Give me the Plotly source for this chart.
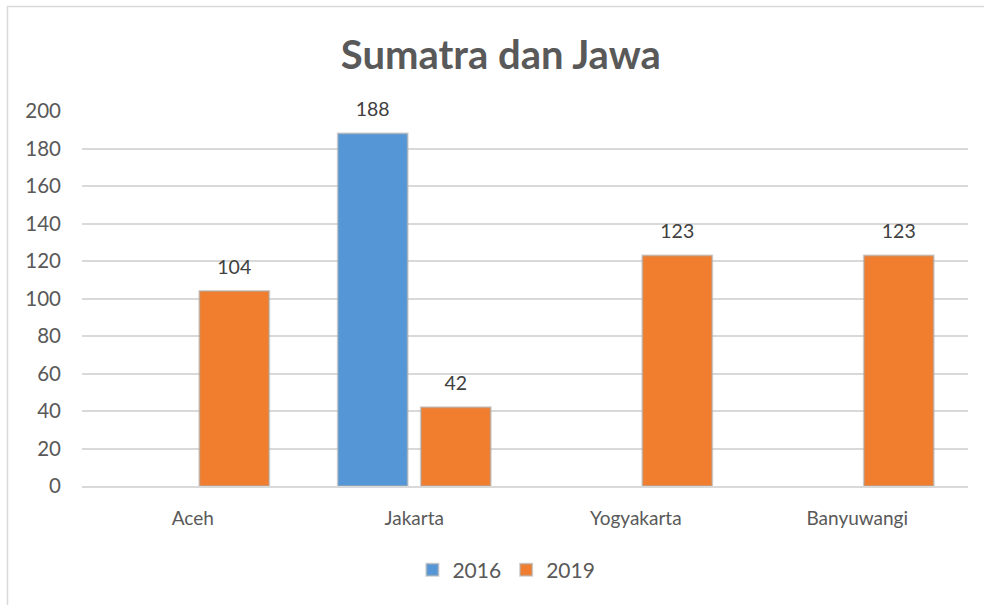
import plotly.graph_objects as go

categories = ["Aceh", "Jakarta", "Yogyakarta", "Banyuwangi"]
values_2016 = [None, 188, None, None]
values_2019 = [104, 42, 123, 123]
series_names = ["2016", "2019"]
y_ticks = [0, 20, 40, 60, 80, 100, 120, 140, 160, 180, 200]

FONT = "Lato, Carlito, Calibri, sans-serif"
COLORS = ["#5597D6", "#F07E2E"]

def labels(vals):
    return ["" if v is None else str(v) for v in vals]

fig = go.Figure()
for name, vals, col in zip(series_names, [values_2016, values_2019], COLORS):
    fig.add_trace(go.Bar(
        name=name, x=categories, y=vals, offsetgroup=name,
        marker=dict(color=col, line=dict(color="rgba(170,170,170,0.55)", width=2)),
        hoverinfo="x+y",
    ))
for name, vals in zip(series_names, [values_2016, values_2019]):
    fig.add_trace(go.Scatter(
        x=categories, y=vals, offsetgroup=name, mode="markers+text",
        text=labels(vals), textposition="top center",
        textfont=dict(size=19.5, color="#404040", family=FONT),
        marker=dict(size=18, color="rgba(0,0,0,0)"),
        showlegend=False, hoverinfo="skip", cliponaxis=False,
    ))

fig.update_layout(
    width=984, height=605,
    paper_bgcolor="white", plot_bgcolor="white",
    margin=dict(l=82, r=16, t=111, b=119),
    barmode="group", bargap=0.25, bargroupgap=0.16,
    scattermode="group", scattergap=0.25,
    title=dict(text="<b>Sumatra dan Jawa</b>", x=0.509, xanchor="center",
               y=0.909, yanchor="middle",
               font=dict(size=40, color="#595959", family=FONT)),
    font=dict(family=FONT, color="#595959", size=18),
    showlegend=True,
    legend=dict(orientation="h", x=0.479, xanchor="center", y=-0.224, yanchor="middle",
                font=dict(size=21, color="#595959"), itemwidth=30, traceorder="normal"),
    xaxis=dict(showgrid=False, showline=True, linecolor="#d9d9d9", linewidth=1.5,
               tickfont=dict(size=19, color="#595959"), ticks="", ticklabelstandoff=14),
    yaxis=dict(range=[0, 200], tickvals=y_ticks, showgrid=True, gridcolor="#d9d9d9",
               gridwidth=1.5, zeroline=False, showline=False,
               tickfont=dict(size=20.5, color="#595959"), ticks="", ticklabelstandoff=20),
    shapes=[dict(type="rect", xref="paper", yref="paper",
                 x0=(7.5 - 82) / 886, x1=(995 - 82) / 886,
                 y0=(486 - 615) / 375, y1=(486 - 6.5) / 375,
                 line=dict(color="#d9d9d9", width=1.5), layer="below")],
)

fig.write_html("out.html", config={"displayModeBar": False},
               post_script="document.body.style.margin='0';document.body.style.overflow='hidden';")
